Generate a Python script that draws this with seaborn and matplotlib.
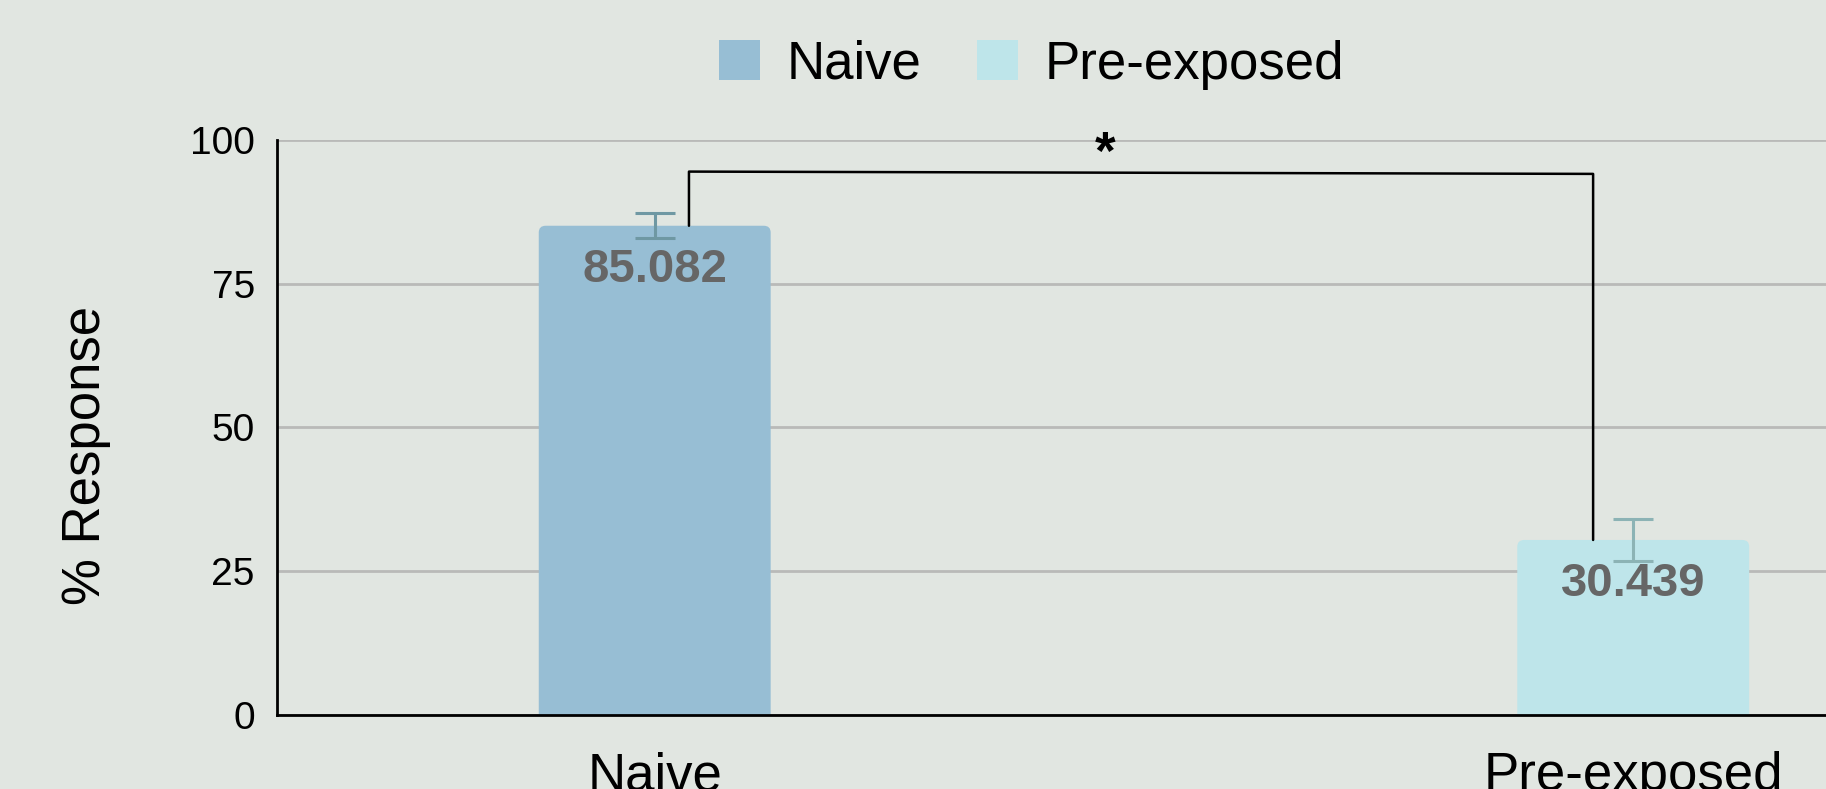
import pandas as pd
import matplotlib.pyplot as plt
from matplotlib.patches import FancyBboxPatch
import seaborn as sns

# Data
groups = ["Naive", "Pre-exposed"]
response = [85.082, 30.439]
err = [2.2, 3.6]
bar_colors = ["#97bed4", "#bee5ea"]
err_colors = ["#6f98a3", "#8cb3b5"]
yticks = [0, 25, 50, 75, 100]
signif = "*"

df = pd.DataFrame({"group": groups, "response": response})

sns.set_theme(style="white")
plt.rcParams["font.family"] = ["Liberation Sans", "DejaVu Sans"]

bg = "#e1e6e1"
fig = plt.figure(figsize=(18.26, 7.89), dpi=100, facecolor=bg)
ax = fig.add_axes([0.1517, 0.0938, 0.8483, 0.7288])
ax.set_facecolor(bg)

sns.barplot(data=df, x="group", y="response", hue="group",
            palette=bar_colors, width=0.237, errorbar=None, saturation=1,
            linewidth=0, legend=True, ax=ax, zorder=3)

ax.set_xlim(-0.386, 1.197)
ax.set_ylim(0, 100)

# swap the bars for ones with slightly rounded top corners
for p in list(ax.patches):
    x, y, w, h = p.get_x(), p.get_y(), p.get_width(), p.get_height()
    fc = p.get_facecolor()
    p.set_visible(False)
    ax.add_patch(FancyBboxPatch((x, y - 3), w, h + 3,
                                boxstyle="round,pad=0,rounding_size=0.007",
                                mutation_aspect=170, facecolor=fc,
                                edgecolor="none", zorder=3))

# error bars
for i, (v, e, c) in enumerate(zip(response, err, err_colors)):
    ax.errorbar(i, v, yerr=e, fmt="none", ecolor=c, elinewidth=2.2,
                capsize=14.4, capthick=2.2, zorder=4)

# value labels inside bars
for i, v in enumerate(response):
    ax.text(i, v - 3.8, f"{v:.3f}", ha="center", va="top",
            fontsize=34, fontweight="bold", color="#666666", zorder=5)

# significance bracket
top = 94.5
x0, x1 = 0.035, 0.959
ax.plot([x0, x0, x1, x1], [response[0], top, top - 0.4, response[1]],
        color="black", lw=1.8, zorder=5)
ax.text(0.46, top - 1.5, signif, ha="center", va="bottom",
        fontsize=38, fontweight="bold", color="black")

ax.set_yticks(yticks)
ax.yaxis.grid(True, color="#b9bab8", lw=2, zorder=0)
ax.set_axisbelow(True)
for s in ["top", "right"]:
    ax.spines[s].set_visible(False)
for s in ["left", "bottom"]:
    ax.spines[s].set_color("black")
    ax.spines[s].set_linewidth(2)
    ax.spines[s].set_zorder(6)

ax.tick_params(axis="y", length=0, pad=16, labelsize=28, labelcolor="black")
ax.tick_params(axis="x", length=0, pad=26, labelsize=38, labelcolor="black")
ax.set_xlabel("")
ax.set_ylabel("% Response", fontsize=38, color="black")
ax.yaxis.set_label_coords(-0.107, 0.451)

leg = ax.legend(loc="center", bbox_to_anchor=(0.565, 0.918),
                bbox_transform=fig.transFigure, ncol=2, frameon=False,
                fontsize=38, handlelength=0.78, handleheight=0.78,
                handletextpad=0.5, columnspacing=1.05)
for h, c in zip(leg.legend_handles, bar_colors):
    h.set_visible(True)
    h.set_facecolor(c)
    h.set_edgecolor("none")
for t in leg.get_texts():
    t.set_color("black")

fig.savefig("out.png", dpi=100, facecolor=bg)
